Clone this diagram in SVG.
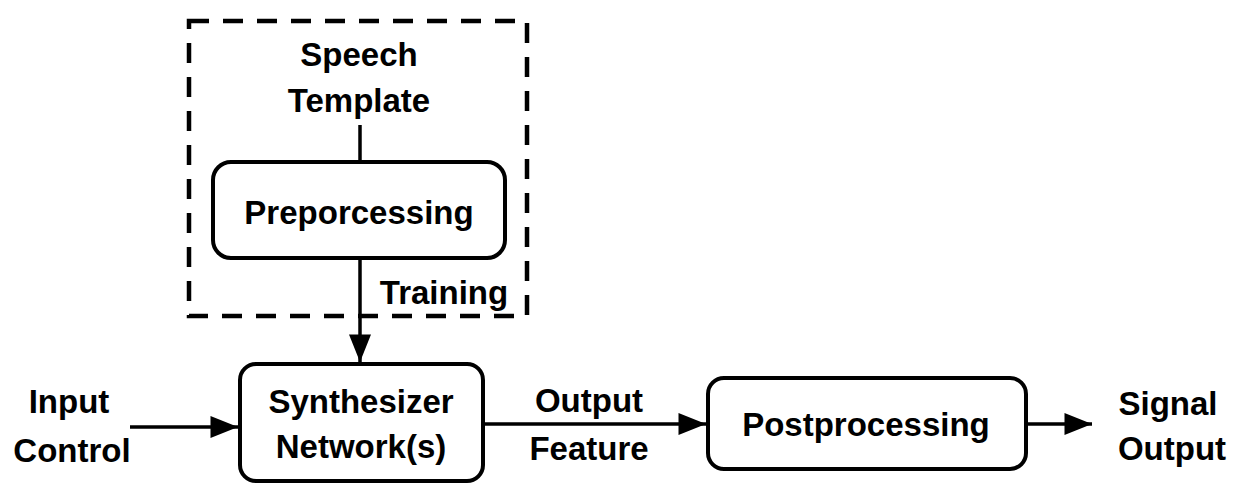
<svg xmlns="http://www.w3.org/2000/svg" width="1235" height="483" viewBox="0 0 1235 483">
  <defs>
    <style>
      .box { fill: #fff; stroke: #000; stroke-width: 4; }
      .frame { fill: none; stroke: #000; stroke-width: 4.5; stroke-dasharray: 20 14; }
      .wire { fill: none; stroke: #000; stroke-width: 3.5; }
      .label { font-family: "Liberation Sans", Arial, Helvetica, sans-serif; font-weight: bold; font-size: 33px; fill: #000; text-anchor: middle; }
    </style>
    <marker id="arrow" viewBox="0 0 10 8" refX="10" refY="4" markerUnits="userSpaceOnUse" markerWidth="32" markerHeight="22" orient="auto">
      <path d="M0,0 L10,4 L0,8 Z" fill="#000"/>
    </marker>
  </defs>

  <rect width="1235" height="483" fill="#fff"/>

  <!-- training section (dashed frame) -->
  <g id="training-frame">
    <rect class="frame" x="189" y="21" width="338" height="295"/>
    <text class="label" x="359" y="66">Speech</text>
    <text class="label" x="359" y="112">Template</text>
    <text class="label" x="444" y="304">Training</text>
  </g>

  <g id="preprocessing">
    <rect class="box" x="213" y="162" width="292" height="96" rx="18"/>
    <text class="label" x="359" y="224">Preporcessing</text>
  </g>

  <g id="synthesizer">
    <rect class="box" x="240" y="364" width="243" height="117" rx="16"/>
    <text class="label" x="361" y="413">Synthesizer</text>
    <text class="label" x="361" y="458">Network(s)</text>
  </g>

  <g id="postprocessing">
    <rect class="box" x="708" y="378" width="318" height="91" rx="16"/>
    <text class="label" x="866" y="436">Postprocessing</text>
  </g>

  <g id="input-control">
    <text class="label" x="69" y="413">Input</text>
    <text class="label" x="72" y="462">Control</text>
  </g>

  <g id="output-feature">
    <text class="label" x="589" y="412">Output</text>
    <text class="label" x="589" y="460">Feature</text>
  </g>

  <g id="signal-output">
    <text class="label" x="1168" y="415">Signal</text>
    <text class="label" x="1172" y="460">Output</text>
  </g>

  <!-- connectors -->
  <g id="connectors">
    <line class="wire" x1="360" y1="125" x2="360" y2="162"/>
    <line class="wire" x1="360" y1="258" x2="360" y2="362" marker-end="url(#arrow)"/>
    <line class="wire" x1="130" y1="427" x2="238" y2="427" marker-end="url(#arrow)"/>
    <line class="wire" x1="483" y1="424" x2="706" y2="424" marker-end="url(#arrow)"/>
    <line class="wire" x1="1026" y1="424" x2="1092" y2="424" stroke-width="5" marker-end="url(#arrow)"/>
  </g>
</svg>
